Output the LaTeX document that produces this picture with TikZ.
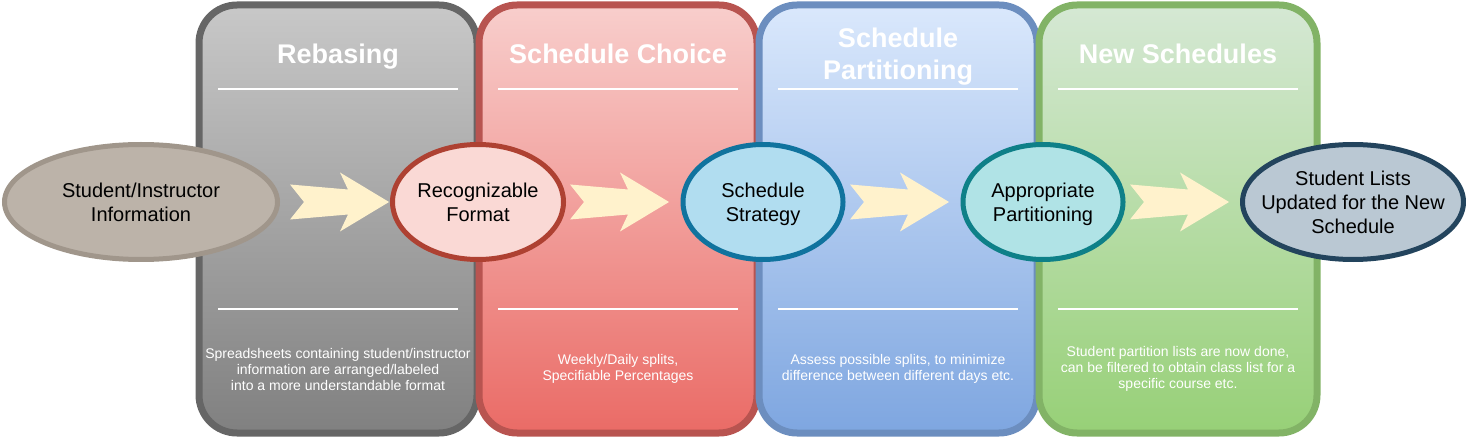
\documentclass[tikz,border=0pt]{standalone}
\usepackage{fontspec}
\setmainfont{Liberation Sans}
\usetikzlibrary{shapes.geometric}

\definecolor{grayTop}{HTML}{C8C8C8}
\definecolor{grayBot}{HTML}{808080}
\definecolor{grayLine}{HTML}{666666}
\definecolor{redTop}{HTML}{F8CECC}
\definecolor{redBot}{HTML}{EA6B66}
\definecolor{redLine}{HTML}{B85450}
\definecolor{blueTop}{HTML}{DAE8FC}
\definecolor{blueBot}{HTML}{7EA6E0}
\definecolor{blueLine}{HTML}{6C8EBF}
\definecolor{greenTop}{HTML}{D5E8D4}
\definecolor{greenBot}{HTML}{97D077}
\definecolor{greenLine}{HTML}{82B366}
\definecolor{arrowFill}{HTML}{FFF2CC}

\tikzset{every picture/.style={line width=0.75pt}}
\tikzset{
  panel/.style={line width=3.5pt, rounded corners=19pt},
  title/.style={text=white, font=\bfseries\fontsize{13.5}{16}\selectfont, align=center},
  note/.style={text=white, font=\fontsize{7}{8}\selectfont, align=center},
  rule/.style={white, line width=1pt},
  stage/.style={ellipse, line width=2.5pt, minimum height=57.5pt, inner sep=0pt},
  stagetext/.style={font=\fontsize{10}{12}\selectfont, align=center, yshift=-1.5pt},
  fwd/.pic={\fill[arrowFill] (0,-17.5) -- (58,-12.5) -- (50,-29.5) -- (99,0) -- (50,29.5) -- (58,12.5) -- (0,17.5) -- (14,0) -- cycle;}
}

\begin{document}
\begin{tikzpicture}[x=0.5pt,y=0.5pt,yscale=-1,xscale=1]
\useasboundingbox (0,0) rectangle (1466,438);

% panels
\draw [panel, draw=grayLine, top color=grayTop, bottom color=grayBot] (199,5) rectangle (477,433);
\draw [panel, draw=redLine, top color=redTop, bottom color=redBot] (479,5) rectangle (757,433);
\draw [panel, draw=blueLine, top color=blueTop, bottom color=blueBot] (759,5) rectangle (1037,433);
\draw [panel, draw=greenLine, top color=greenTop, bottom color=greenBot] (1039,5) rectangle (1317,433);

\draw (338,64) node [title, anchor=base] (t1) {Rebasing};
\draw (618,64) node [title, anchor=base] (t2) {Schedule Choice};
\draw (898,57) node [title] (t3) {Schedule\\Partitioning};
\draw (1178,64) node [title, anchor=base] (t4) {New Schedules};

\foreach \cx in {338,618,898,1178} {
  \draw [rule] (\cx-120,89) -- (\cx+120,89);
  \draw [rule] (\cx-120,309) -- (\cx+120,309);
}

\draw (338,369) node [note] (n1) {Spreadsheets containing student/instructor\\information are arranged/labeled\\into a more understandable format};
\draw (618,369) node [note] (n2) {Weekly/Daily splits,\\Specifiable Percentages};
\draw (898,369) node [note] (n3) {Assess possible splits, to minimize\\difference between different days etc.};
\draw (1178,369) node [note] (n4) {Student partition lists are now done,\\can be filtered to obtain class list for a\\specific course etc.};

% stages
\node [stage, minimum width=136.5pt, draw={rgb,255:red,160;green,150;blue,139}, fill={rgb,255:red,188;green,179;blue,169}] (info) at (141,202) {};
\node [stage, minimum width=85.5pt, draw={rgb,255:red,174;green,65;blue,50}, fill={rgb,255:red,250;green,217;blue,213}] (fmt) at (478,202) {};
\node [stage, minimum width=80pt, draw={rgb,255:red,16;green,115;blue,158}, fill={rgb,255:red,177;green,221;blue,240}] (strat) at (763,202) {};
\node [stage, minimum width=80pt, draw={rgb,255:red,14;green,128;blue,136}, fill={rgb,255:red,176;green,227;blue,230}] (part) at (1043,202) {};
\node [stage, minimum width=110.5pt, draw={rgb,255:red,35;green,68;blue,93}, fill={rgb,255:red,186;green,200;blue,211}] (lists) at (1353,202) {};

\node [stagetext] (info-t) at (info) {\strut Student/Instructor\\Information\strut};
\node [stagetext] (fmt-t) at (fmt) {\strut Recognizable\\Format\strut};
\node [stagetext] (strat-t) at (strat) {\strut Schedule\\Strategy\strut};
\node [stagetext] (part-t) at (part) {\strut Appropriate\\Partitioning\strut};
\node [stagetext] (lists-t) at (lists) {\strut Student Lists\\Updated for the New\\Schedule\strut};

% arrows
\pic (a1) at (290,202) {fwd};
\pic (a2) at (570,202) {fwd};
\pic (a3) at (850,202) {fwd};
\pic (a4) at (1130,202) {fwd};

\end{tikzpicture}
\end{document}
